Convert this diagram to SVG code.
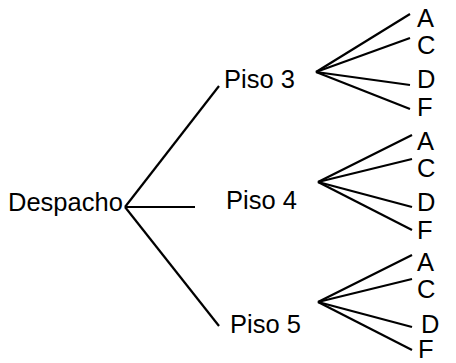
<svg xmlns="http://www.w3.org/2000/svg" width="456" height="363" viewBox="0 0 456 363">
  <style>
    .lbl { font-family: "Liberation Sans", Arial, sans-serif; font-size: 25.5px; fill: #000; }
    .edge { stroke: #000; stroke-width: 2.2; fill: none; stroke-linecap: butt; }
  </style>
  <rect width="456" height="363" fill="#fff"/>

  <!-- connectors -->
  <g id="connectors">
    <!-- root to floors -->
    <line class="edge" x1="125" y1="207" x2="219" y2="86"/>
    <line class="edge" x1="125" y1="207" x2="195" y2="207"/>
    <line class="edge" x1="125" y1="207" x2="219" y2="326"/>
    <!-- floor 3 to offices -->
    <line class="edge" x1="316" y1="72" x2="410" y2="14"/>
    <line class="edge" x1="316" y1="72" x2="410" y2="38"/>
    <line class="edge" x1="316" y1="72" x2="410" y2="85"/>
    <line class="edge" x1="316" y1="72" x2="410" y2="109"/>
    <!-- floor 4 to offices -->
    <line class="edge" x1="318" y1="182" x2="412" y2="135"/>
    <line class="edge" x1="318" y1="182" x2="412" y2="159"/>
    <line class="edge" x1="318" y1="182" x2="412" y2="207"/>
    <line class="edge" x1="318" y1="182" x2="412" y2="230"/>
    <!-- floor 5 to offices -->
    <line class="edge" x1="318" y1="302" x2="412" y2="255"/>
    <line class="edge" x1="318" y1="302" x2="412" y2="279"/>
    <line class="edge" x1="318" y1="302" x2="412" y2="327"/>
    <line class="edge" x1="318" y1="302" x2="412" y2="350"/>
  </g>

  <g id="despacho"><text class="lbl" x="8" y="211">Despacho</text></g>
  <g id="piso3"><text class="lbl" x="224" y="88">Piso 3</text></g>
  <g id="piso4"><text class="lbl" x="226" y="209">Piso 4</text></g>
  <g id="piso5"><text class="lbl" x="230" y="333">Piso 5</text></g>

  <g id="p3-a"><text class="lbl" x="417" y="27">A</text></g>
  <g id="p3-c"><text class="lbl" x="417" y="54">C</text></g>
  <g id="p3-d"><text class="lbl" x="417" y="88">D</text></g>
  <g id="p3-f"><text class="lbl" x="417" y="116">F</text></g>

  <g id="p4-a"><text class="lbl" x="417" y="150">A</text></g>
  <g id="p4-c"><text class="lbl" x="417" y="177">C</text></g>
  <g id="p4-d"><text class="lbl" x="417" y="211">D</text></g>
  <g id="p4-f"><text class="lbl" x="417" y="239">F</text></g>

  <g id="p5-a"><text class="lbl" x="417" y="271">A</text></g>
  <g id="p5-c"><text class="lbl" x="417" y="298">C</text></g>
  <g id="p5-d"><text class="lbl" x="421" y="333">D</text></g>
  <g id="p5-f"><text class="lbl" x="418" y="358">F</text></g>
</svg>
